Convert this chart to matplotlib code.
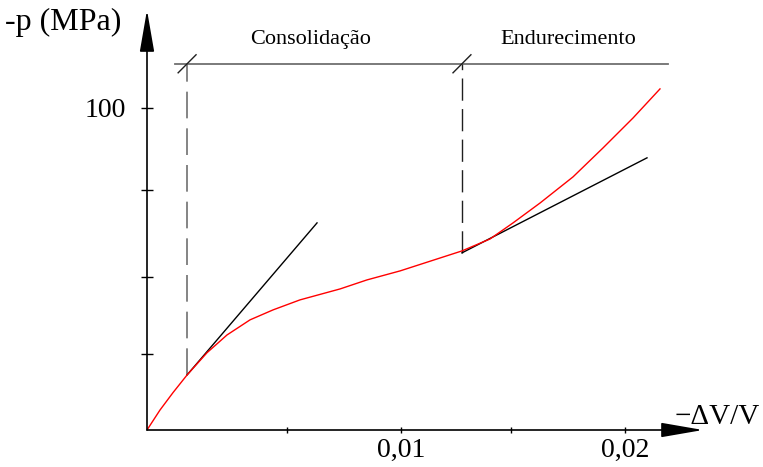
import numpy as np
import matplotlib
matplotlib.use("Agg")
from matplotlib import pyplot as plt

plt.rcParams['font.family'] = ['Liberation Serif', 'DejaVu Serif']

# red curve: -dV/V vs -p (MPa)
STRAIN = [-0.00134, -0.00076, -0.00018, 0.00045, 0.00134, 0.00223, 0.00326,
          0.00429, 0.00549, 0.00728, 0.00848, 0.00996, 0.01174, 0.01272,
          0.01397, 0.01500, 0.01621, 0.01768, 0.01902, 0.02036, 0.02156]
PRESSURE = [0.0, 6.2, 11.6, 17.1, 24.0, 29.5, 34.2, 37.3, 40.4, 43.8, 46.6,
            49.4, 53.4, 55.6, 59.3, 64.3, 70.5, 78.6, 87.6, 96.9, 105.9]

# tangent lines
TAN1_X = [0.00045, 0.00625]
TAN1_Y = [17.1, 64.3]
TAN2_X = [0.01272, 0.02098]
TAN2_Y = [55.0, 84.5]

# zone limits
ZONE_X = [0.00045, 0.01272]
ZONE_Y0 = [17.1, 55.0]
ZONE_TOP = 113.7
ZONE_LINE = [-0.0001, 0.0219]
ZONE_NAMES = ["Consolidação", "Endurecimento"]
ZONE_LABEL_X = [0.00598, 0.01746]

X_TICKS = [0.0049, 0.01, 0.0149, 0.02]
X_TICK_LABELS = ["", "0,01", "", "0,02"]
Y_TICKS = [23.6, 47.5, 74.5, 100]
Y_TICK_LABELS = ["", "", "", "100"]

XMIN, XMAX = -0.00134, 0.02348
YMIN, YMAX = 0.0, 130.4

fig = plt.figure(figsize=(7.63, 4.67), dpi=100)
ax = fig.add_axes([147 / 763, 37 / 467, 556 / 763, 420 / 467])
ax.set_xlim(XMIN, XMAX)
ax.set_ylim(YMIN, YMAX)
for s in ax.spines.values():
    s.set_visible(False)

# axes with arrows
arrow = dict(arrowstyle='-|>,head_length=2.6,head_width=0.45', color='black',
             lw=1.2, mutation_scale=10, shrinkA=0, shrinkB=0)
ax.annotate('', xy=(XMAX, 0), xytext=(XMIN, 0), arrowprops=arrow,
            annotation_clip=False)
ax.annotate('', xy=(XMIN, YMAX), xytext=(XMIN, 0), arrowprops=arrow,
            annotation_clip=False)

ax.set_xticks(X_TICKS)
ax.set_xticklabels(X_TICK_LABELS, fontsize=20)
ax.set_yticks(Y_TICKS)
ax.set_yticklabels(Y_TICK_LABELS, fontsize=20)
ax.tick_params(axis='x', direction='inout', length=5, width=1, pad=3)
ax.tick_params(axis='y', direction='inout', length=8.6, width=1, pad=11)

# zone markers
ax.plot(ZONE_LINE, [ZONE_TOP, ZONE_TOP], color='#707070', lw=1.3)
ax.plot([ZONE_X[0]] * 2, [ZONE_Y0[0], ZONE_TOP], color='#707070', lw=1.2,
        dashes=(16, 6))
ax.plot([ZONE_X[1]] * 2, [ZONE_Y0[1], ZONE_TOP], color='#202020', lw=1.0,
        dashes=(16, 6))
for zx in ZONE_X:
    ax.plot([zx - 0.0004, zx + 0.0004], [ZONE_TOP - 2.8, ZONE_TOP + 2.8],
            color='#202020', lw=1.0)
for name, lx in zip(ZONE_NAMES, ZONE_LABEL_X):
    ax.text(lx, 119.8, name, fontsize=16, ha='center', va='baseline')

ax.plot(TAN1_X, TAN1_Y, color='black', lw=1.0)
ax.plot(TAN2_X, TAN2_Y, color='black', lw=1.0)
ax.plot(STRAIN, PRESSURE, color='#ff0000', lw=1.0, solid_joinstyle='round')

fig.text(5 / 763, 1 - 22 / 467, "-p (MPa)", fontsize=23, ha='left',
         va='center')
fig.text(675 / 763, 1 - 424 / 467, "\u2212\u0394V/V", fontsize=21,
         ha='left', va='baseline')

fig.savefig("out.png", dpi=100)
